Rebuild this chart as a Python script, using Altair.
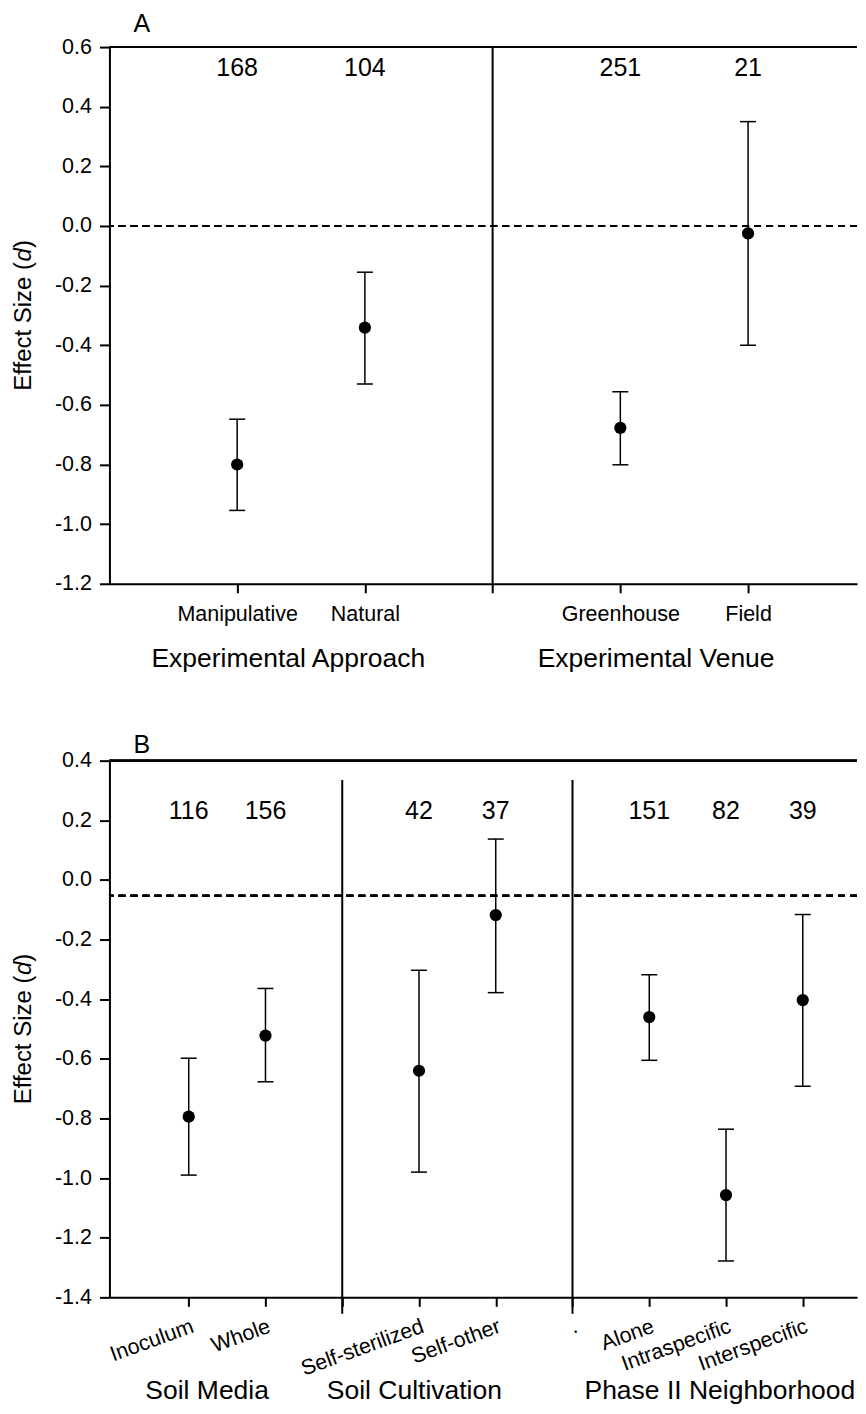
import json
import altair as alt
import pandas as pd

FONT = "Liberation Sans, Arial, sans-serif"

# ---------------- Panel A ----------------
a_cats = ["Manipulative", "Natural", "Greenhouse", "Field"]
a_group_sizes = [2, 2]
a_group_names = ["Experimental Approach", "Experimental Venue"]
a_mean = [-0.800, -0.341, -0.677, -0.025]
a_low = [-0.954, -0.530, -0.801, -0.400]
a_high = [-0.648, -0.155, -0.556, 0.350]
a_n = ["168", "104", "251", "21"]
a_divider_labels = [""]
a_reference = 0.0

# ---------------- Panel B ----------------
b_cats = ["Inoculum", "Whole", "Self-sterilized", "Self-other",
          "Alone", "Intraspecific", "Interspecific"]
b_group_sizes = [2, 2, 3]
b_group_names = ["Soil Media", "Soil Cultivation", "Phase II Neighborhood"]
b_mean = [-0.794, -0.522, -0.640, -0.118, -0.460, -1.057, -0.403]
b_low = [-0.990, -0.677, -0.980, -0.378, -0.605, -1.278, -0.692]
b_high = [-0.598, -0.364, -0.303, 0.137, -0.318, -0.836, -0.116]
b_n = ["116", "156", "42", "37", "151", "82", "39"]
b_divider_labels = ["", "."]
b_reference = -0.053

# y-axis caption pieces (the "d" is italic)
ytitle_parts = ["Effect Size (", "d", ")"]
ytitle_styles = ["normal", "italic", "normal"]

W, H = 748, 537
TITLE_FS = 24


def slots(sizes):
    pos, divs, p = [], [], 0
    for gi, s in enumerate(sizes):
        for _ in range(s):
            p += 1
            pos.append(p)
        if gi < len(sizes) - 1:
            p += 1
            divs.append(p)
    return pos, divs


# approximate Arial/Liberation Sans advance widths (em) for caption layout
ADV = {"E": .667, "f": .278, "e": .556, "c": .5, "t": .278, " ": .278,
       "S": .667, "i": .222, "z": .5, "(": .333, "d": .556, ")": .333}


def text_w(s):
    return sum(ADV.get(ch, .556) for ch in s) * TITLE_FS


def panel(letter, cats, sizes, gnames, gx, mean, low, high, n, div_labels,
          ydom, ref, n_y, div_top, div_bottom, unit, x0, angle, letter_y,
          glabel_y, xlabel_pad):
    pos, divs = slots(sizes)
    df = pd.DataFrame({"pos": pos, "cat": cats, "mean": mean,
                       "low": low, "high": high, "n": n})
    lab = [""] * (max(pos) + 1)
    for p, c in zip(pos, cats):
        lab[p] = c
    for p, l in zip(divs, div_labels):
        lab[p] = l

    xscale = alt.Scale(domain=[x0, x0 + W / unit], nice=False, zero=False)
    yscale = alt.Scale(domain=list(ydom), nice=False, zero=False)
    xaxis = alt.Axis(
        values=list(range(1, max(pos) + 1)),
        labelExpr=f"{json.dumps(lab)}[datum.value]",
        title=None, grid=False, labelAngle=angle,
        labelAlign="center" if angle == 0 else "right",
        labelBaseline="top", labelPadding=xlabel_pad, tickSize=9,
        labelOverlap=False, labelFlush=False, labelFontSize=21.5,
    )
    nt = int(round((ydom[1] - ydom[0]) / 0.2))
    yticks = [round(ydom[0] + 0.2 * i, 1) for i in range(nt + 1)]
    yaxis = alt.Axis(values=yticks,
                     labelExpr="replace(format(datum.value, '.1f'), '\u2212', '-')",
                     title=None, grid=False, tickSize=10, labelPadding=8,
                     labelFlush=False, labelFontSize=21.5, labelOverlap=False)

    def X(f):
        return alt.X(f, type="quantitative", scale=xscale, axis=xaxis)

    def Y(f):
        return alt.Y(f, type="quantitative", scale=yscale, axis=yaxis)

    def YD(v):
        return alt.YDatum(v, type="quantitative", scale=yscale, axis=yaxis)

    base = alt.Chart(df)
    border = base.mark_rule(color="black", strokeWidth=2).encode(y=YD(ydom[1]))
    dashed = base.mark_rule(color="black", strokeWidth=2,
                            strokeDash=[7, 5]).encode(y=YD(ref))
    ddf = pd.DataFrame({"d": divs})
    dividers = alt.Chart(ddf).mark_rule(color="black", strokeWidth=2).encode(
        x=X("d"), y=YD(div_top), y2=alt.Y2Datum(div_bottom))
    bars = base.mark_rule(color="black", strokeWidth=1.5).encode(
        x=X("pos"), y=Y("low"), y2="high")
    cap_lo = base.mark_tick(orient="horizontal", size=16, thickness=1.5,
                            color="black", opacity=1).encode(x=X("pos"), y=Y("low"))
    cap_hi = base.mark_tick(orient="horizontal", size=16, thickness=1.5,
                            color="black", opacity=1).encode(x=X("pos"), y=Y("high"))
    points = base.mark_circle(size=150, color="black", opacity=1).encode(
        x=X("pos"), y=Y("mean"))
    counts = base.mark_text(fontSize=25, font=FONT, color="black",
                            baseline="middle", align="center").encode(
        x=X("pos"), y=YD(n_y), text="n")
    gdf = pd.DataFrame({"gx": gx, "g": gnames})
    glabels = alt.Chart(gdf).mark_text(fontSize=26.5, font=FONT, color="black",
                                       baseline="alphabetic", align="center").encode(
        x=X("gx"), y=alt.value(glabel_y), text="g")
    letter_mark = alt.Chart(pd.DataFrame({"t": [letter]})).mark_text(
        fontSize=25, font=FONT, color="black", baseline="alphabetic",
        align="left").encode(x=alt.value(24), y=alt.value(letter_y), text="t")

    # rotated y caption, built from pieces so that "d" can be italic
    total = sum(text_w(s) for s in ytitle_parts)
    start = H / 2 + total / 2
    layers = [border, dashed, dividers, bars, cap_lo, cap_hi, points,
              counts, glabels, letter_mark]
    off = 0.0
    for part, style in zip(ytitle_parts, ytitle_styles):
        layers.append(alt.Chart(pd.DataFrame({"t": [part]})).mark_text(
            fontSize=TITLE_FS, font=FONT, fontStyle=style, color="black",
            angle=270, align="left", baseline="alphabetic").encode(
            x=alt.value(-78), y=alt.value(start - off), text="t"))
        off += text_w(part)

    return alt.layer(*layers).properties(width=W, height=H)


# label centres of the group captions (in slot units)
a_group_x = [1.40, 4.28]
b_group_x = [1.24, 3.94, 7.92]

chart_a = panel("A", a_cats, a_group_sizes, a_group_names, a_group_x,
                a_mean, a_low, a_high, a_n, a_divider_labels,
                (-1.2, 0.6), a_reference, 0.53, 0.6, -1.2,
                127.8, 0.0, 0, -14.6, H + 83, 11)
chart_b = panel("B", b_cats, b_group_sizes, b_group_names, b_group_x,
                b_mean, b_low, b_high, b_n, b_divider_labels,
                (-1.4, 0.4), b_reference, 0.23, 0.335, -1.455,
                76.8, -0.033, -20, -7.6, H + 102, 9)

chart = alt.vconcat(chart_a, chart_b, spacing=60).properties(
    padding={"left": 4.5, "top": 3.7, "right": 0, "bottom": 0}
).configure_view(stroke=None).configure_axis(
    domainColor="black", domainWidth=2, tickColor="black", tickWidth=2,
    labelColor="black", titleColor="black", labelFont=FONT, titleFont=FONT,
)

chart.save("out.html", embed_options={"renderer": "svg", "actions": False})
